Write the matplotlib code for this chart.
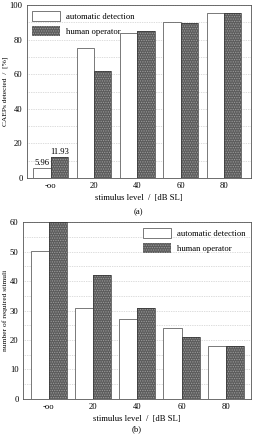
import matplotlib.pyplot as plt
import numpy as np

# data
levels = ['-oo', '20', '40', '60', '80']
detected_auto = [5.96, 75, 84, 90.5, 95.5]
detected_human = [11.93, 62, 85, 89.5, 95.5]
stimuli_auto = [50.3, 30.7, 27, 24, 18]
stimuli_human = [60, 42, 30.8, 21, 18]

plt.rcParams['font.family'] = 'Liberation Serif'
plt.rcParams['font.size'] = 6.2
plt.rcParams['hatch.linewidth'] = 0.6

fig = plt.figure(figsize=(2.55, 4.34), dpi=100)
ax1 = fig.add_axes([0.105, 0.590, 0.878, 0.398])
ax2 = fig.add_axes([0.089, 0.081, 0.894, 0.407])

human_color = '#5c5c5c'


def draw(ax, auto, human, width):
    x = np.arange(len(levels))
    b1 = ax.bar(x - width / 2, auto, width, color='white', edgecolor='#444444',
                linewidth=0.5, label='automatic detection', zorder=2)
    b2 = ax.bar(x + width / 2, human, width, color=human_color, edgecolor='#9a9a9a',
                hatch='.......', linewidth=0, label='human operator', zorder=2)
    ax.bar(x + width / 2, human, width, color='none', edgecolor='#333333',
           linewidth=0.5, zorder=3)
    ax.set_xticks(x)
    ax.set_xticklabels(levels)
    ax.tick_params(length=0, pad=3)
    for s in ax.spines.values():
        s.set_linewidth(0.6)
        s.set_color('#555555')
    ax.yaxis.grid(True, which='both', linestyle=(0, (1, 1.5)), color='#bbbbbb', linewidth=0.5)
    ax.set_axisbelow(True)
    return b1, b2


b1, b2 = draw(ax1, detected_auto, detected_human, 0.40)
ax1.set_xlim(-0.555, 4.62)
ax1.set_ylim(0, 100)
ax1.set_yticks(range(0, 101, 20))
ax1.set_yticks(range(10, 100, 20), minor=True)
ax1.tick_params(which='minor', length=0)
ax1.set_ylabel('CAEPs detected  /  [%]', labelpad=1, fontsize=5.4)
ax1.set_xlabel('stimulus level  /  [dB SL]', labelpad=3)
ax1.text(-0.2, detected_auto[0] + 0.5, f'{detected_auto[0]:.2f}', ha='center', va='bottom')
ax1.text(0.2, detected_human[0] + 0.5, f'{detected_human[0]:.2f}', ha='center', va='bottom')
ax1.legend(loc='upper left', frameon=False, handlelength=3.2, handleheight=1.4,
           borderaxespad=0.25, labelspacing=0.6, handletextpad=0.7)
ax1.text(0.5, -0.20, '(a)', transform=ax1.transAxes, ha='center', va='center')

draw(ax2, stimuli_auto, stimuli_human, 0.41)
ax2.set_xlim(-0.59, 4.56)
ax2.set_ylim(0, 60)
ax2.set_yticks(range(0, 61, 10))
ax2.set_yticks(range(5, 60, 10), minor=True)
ax2.tick_params(which='minor', length=0)
ax2.set_ylabel('number of required stimuli', labelpad=1, fontsize=5.4)
ax2.set_xlabel('stimulus level  /  [dB SL]', labelpad=3)
ax2.legend(loc='upper right', frameon=False, handlelength=3.2, handleheight=1.4,
           borderaxespad=0.25, labelspacing=0.6, handletextpad=0.7)
ax2.text(0.5, -0.17, '(b)', transform=ax2.transAxes, ha='center', va='center')

fig.savefig('out.png', dpi=100)
